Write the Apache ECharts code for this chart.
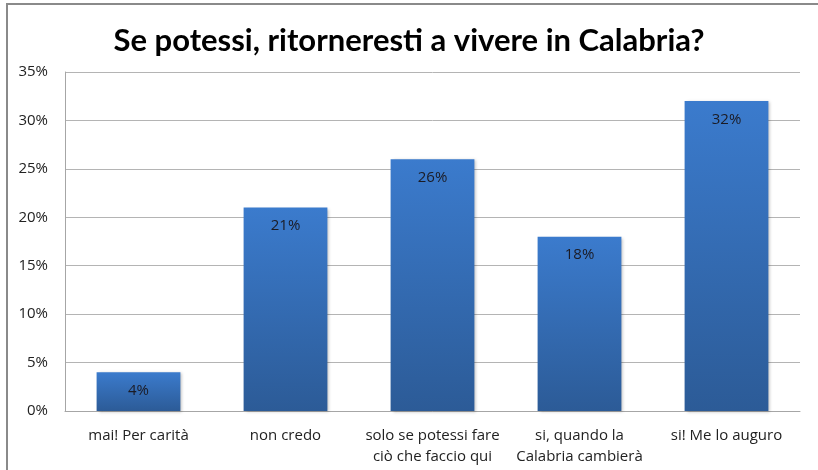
<!DOCTYPE html>
<html>
<head>
<meta charset="UTF-8">
<style>
html, body { margin: 0; padding: 0; background: #fff; }
#frame { position: absolute; left: 6px; top: 3px; width: 812px; height: 467px; border-left: 2px solid #8a8a8a; border-top: 2px solid #8a8a8a; box-sizing: border-box; }
#chart_div { position: absolute; left: 0; top: 0; width: 818px; height: 470px; }
</style>
</head>
<body>
<div id="frame"></div>
<div id="chart_div"></div>
<script type="text/javascript" src="https://cdn.jsdelivr.net/npm/echarts@6/dist/echarts.min.js"></script>
<script type="text/javascript">
// dati
var categorie = ["mai! Per carità", "non credo", "solo se potessi fare\nciò che faccio qui", "si, quando la\nCalabria cambierà", "si! Me lo auguro"];
var valori = [4, 21, 26, 18, 32];
var tickY = [0, 5, 10, 15, 20, 25, 30, 35];

var myChart = echarts.init(document.getElementById('chart_div'));

var option = {
	animation: false,
	title: {
		text: "Se potessi, ritorneresti a vivere in Calabria?",
		left: 'center',
		top: 20,
		textStyle: {
			fontFamily: 'Lato',
			fontWeight: 'bold',
			fontSize: 31,
			color: '#000'
		}
	},
	grid: {
		left: 65,
		right: 18,
		top: 72,
		bottom: 59
	},
	xAxis: {
		type: 'category',
		data: categorie,
		axisLine: { lineStyle: { color: '#a6a6a6', width: 1 } },
		axisTick: { show: false },
		axisLabel: {
			fontFamily: 'Open Sans',
			fontSize: 15,
			color: '#222',
			margin: 14,
			lineHeight: 21,
			interval: 0
		}
	},
	yAxis: {
		type: 'value',
		min: tickY[0],
		max: tickY[tickY.length - 1],
		interval: 5,
		axisLine: { show: true, lineStyle: { color: '#a6a6a6', width: 1 } },
		axisTick: { show: false },
		splitLine: { lineStyle: { color: '#b4b4b4', width: 1 } },
		axisLabel: {
			fontFamily: 'Open Sans',
			fontSize: 15,
			color: '#222',
			margin: 17,
			formatter: function (v) { return v + '%'; }
		}
	},
	series: [{
		type: 'bar',
		data: valori,
		barWidth: '57%',
		itemStyle: {
			color: new echarts.graphic.LinearGradient(0, 0, 0, 1, [
				{ offset: 0, color: '#3b7bcd' },
				{ offset: 1, color: '#2c5b97' }
			]),
			shadowColor: 'rgba(0,0,0,0.25)',
			shadowBlur: 3,
			shadowOffsetX: 2,
			shadowOffsetY: 1
		},
		label: {
			show: true,
			position: 'insideTop',
			distance: 11,
			fontFamily: 'Open Sans',
			fontSize: 15,
			color: '#1b1b24',
			formatter: function (p) { return p.value + '%'; }
		}
	}]
};

myChart.setOption(option, true);
</script>
</body>
</html>
